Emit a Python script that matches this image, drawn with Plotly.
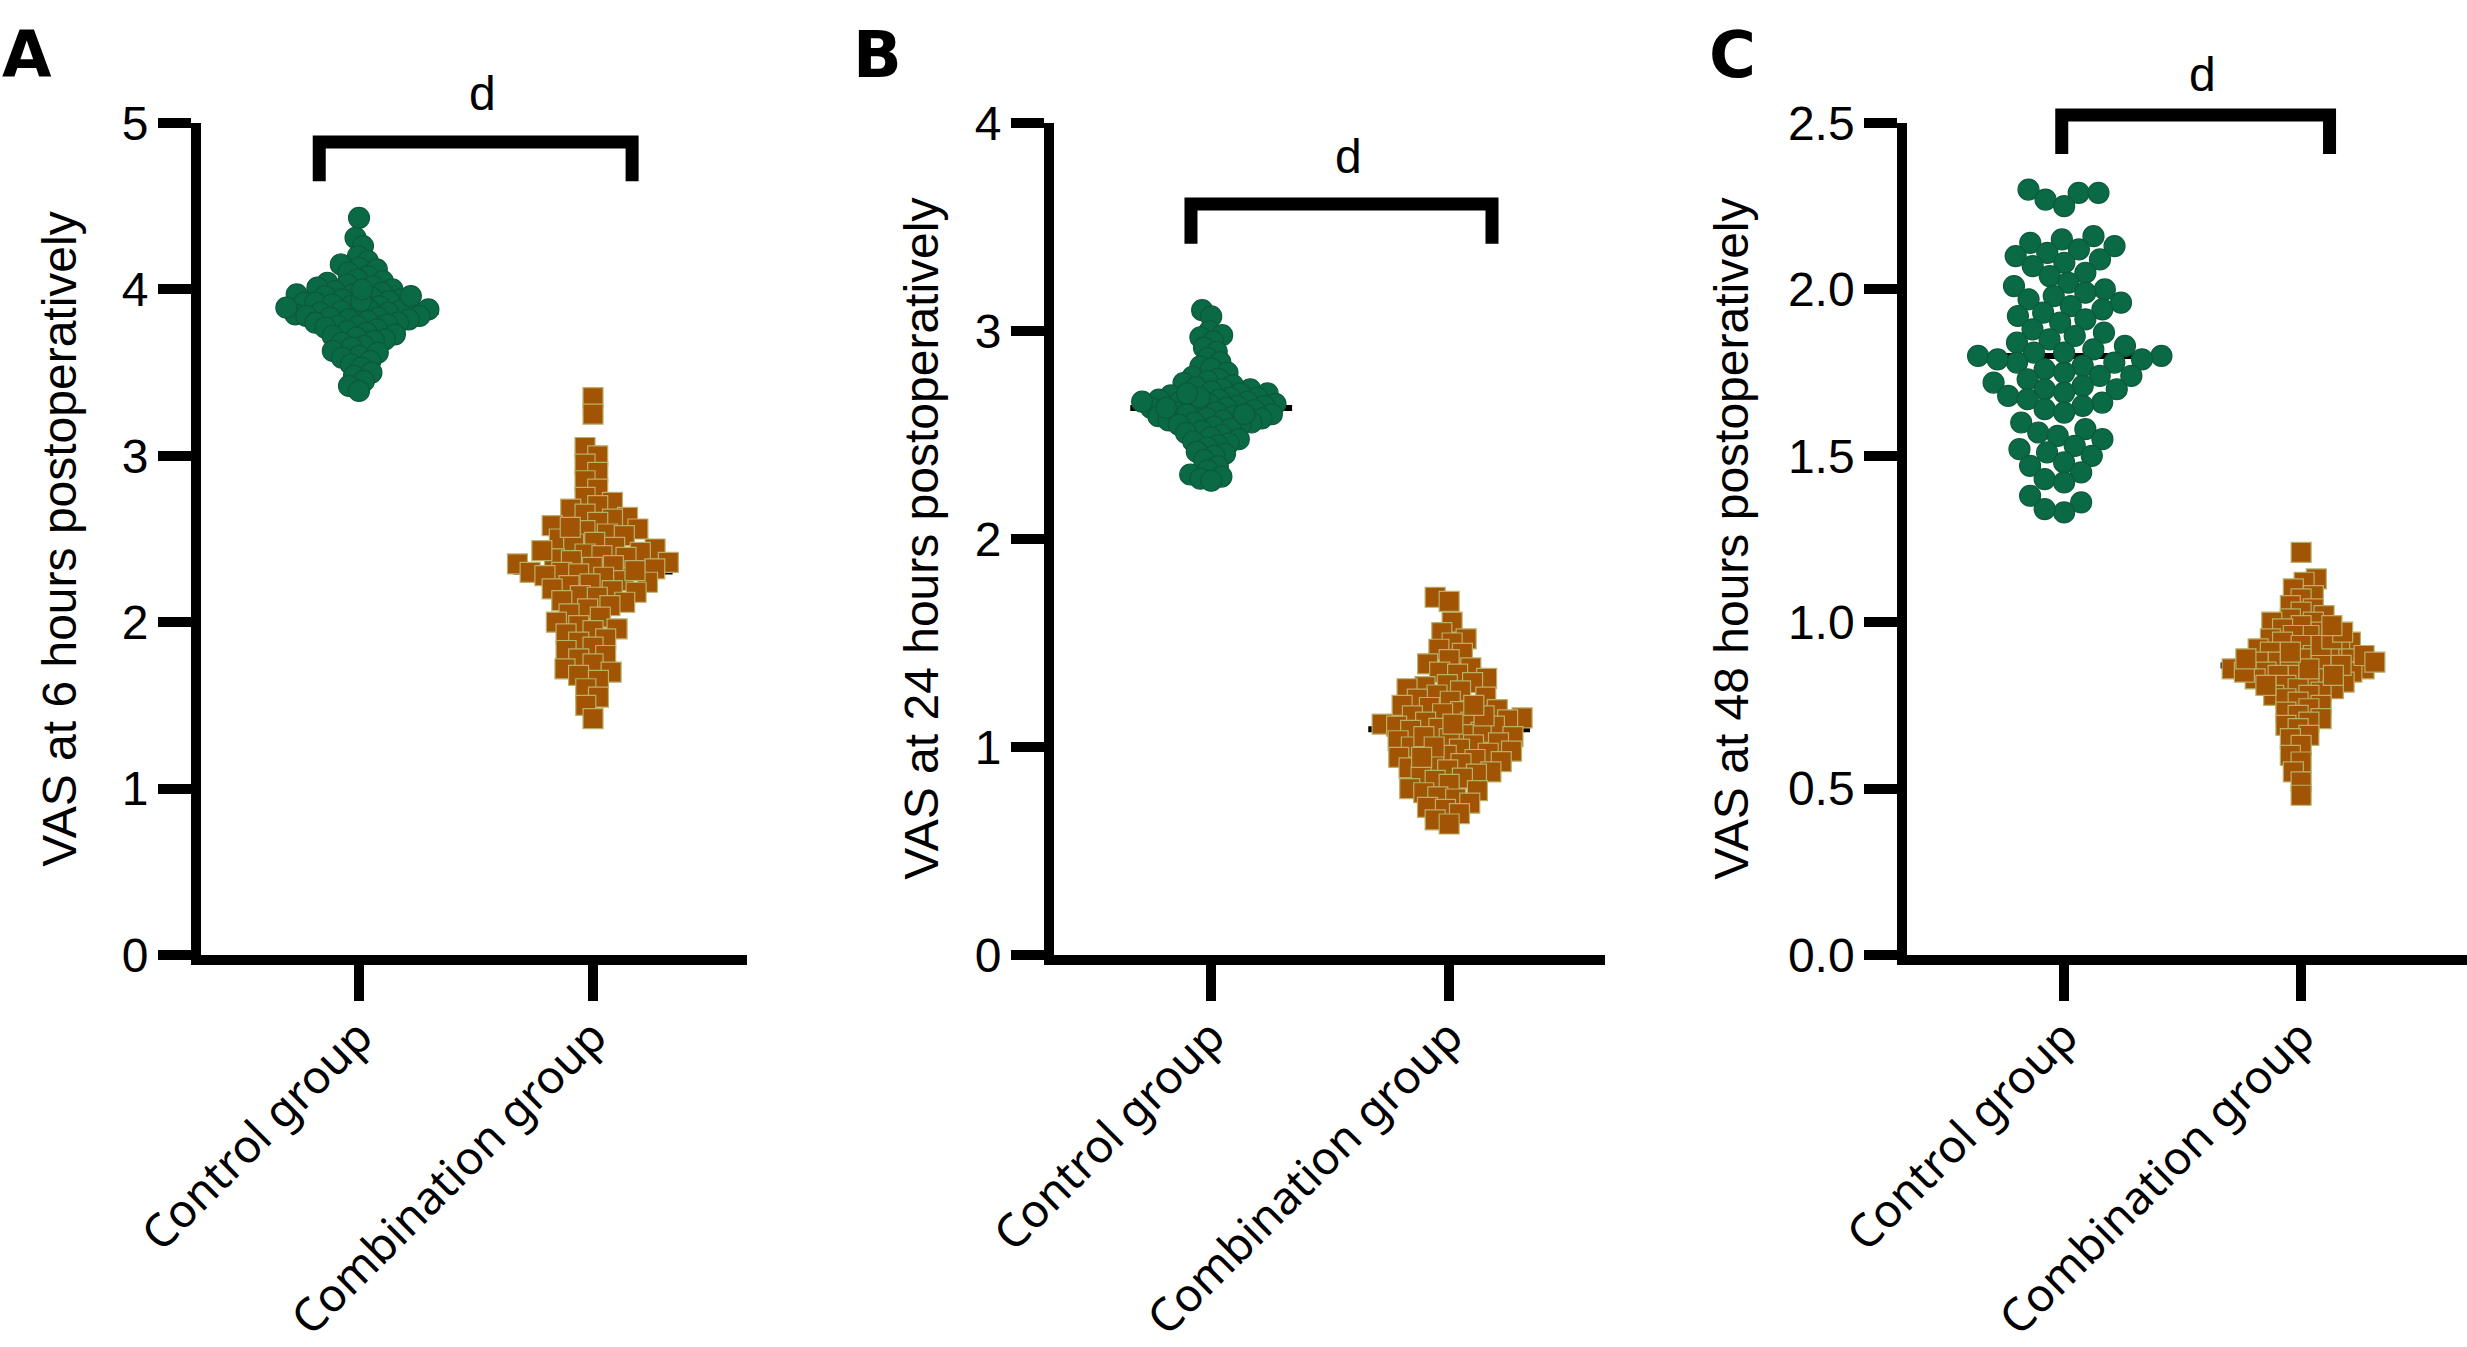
import numpy as np
import plotly.graph_objects as go

# ---- data ----
categories = ["Control group", "Combination group"]
panel_letters = ["A", "B", "C"]
y_titles = ["VAS at 6 hours postoperatively",
            "VAS at 24 hours postoperatively",
            "VAS at 48 hours postoperatively"]
y_tickvals = [[0, 1, 2, 3, 4, 5],
              [0, 1, 2, 3, 4],
              [0, 0.5, 1.0, 1.5, 2.0, 2.5]]
y_ticktext = [["0", "1", "2", "3", "4", "5"],
              ["0", "1", "2", "3", "4"],
              ["0.0", "0.5", "1.0", "1.5", "2.0", "2.5"]]
sig_labels = ["d", "d", "d"]

vas6_control = [
    4.43, 4.31, 4.26, 4.20, 4.17, 4.15, 4.13, 4.12, 4.10, 4.08,
    4.06, 4.05, 4.04, 4.03, 4.02, 4.01, 4.00, 3.99, 3.98, 3.97,
    3.97, 3.96, 3.95, 3.94, 3.94, 3.93, 3.92, 3.92, 3.91, 3.90,
    3.90, 3.89, 3.88, 3.88, 3.87, 3.87, 3.86, 3.86, 3.85, 3.85,
    3.84, 3.84, 3.83, 3.83, 3.82, 3.82, 3.81, 3.80, 3.80, 3.79,
    3.78, 3.78, 3.77, 3.76, 3.75, 3.74, 3.73, 3.72, 3.71, 3.70,
    3.69, 3.68, 3.66, 3.65, 3.63, 3.62, 3.60, 3.59, 3.57, 3.55,
    3.53, 3.50, 3.48, 3.45, 3.42, 3.39, 3.93, 3.96, 4.00, 3.89]
vas6_combination = [
    3.35, 3.25, 3.05, 3.00, 2.95, 2.90, 2.85, 2.80, 2.75, 2.72,
    2.70, 2.68, 2.65, 2.63, 2.62, 2.60, 2.58, 2.56, 2.55, 2.53,
    2.52, 2.50, 2.48, 2.47, 2.45, 2.44, 2.42, 2.41, 2.40, 2.39,
    2.38, 2.37, 2.36, 2.35, 2.34, 2.33, 2.32, 2.30, 2.30, 2.29,
    2.28, 2.27, 2.25, 2.24, 2.23, 2.22, 2.20, 2.19, 2.18, 2.16,
    2.15, 2.13, 2.12, 2.10, 2.08, 2.05, 2.03, 2.00, 1.98, 1.96,
    1.95, 1.93, 1.90, 1.88, 1.85, 1.83, 1.80, 1.78, 1.75, 1.72,
    1.70, 1.68, 1.65, 1.60, 1.55, 1.50, 1.42, 2.57, 2.43, 2.31]

vas24_control = [
    3.10, 3.07, 3.00, 2.98, 2.97, 2.95, 2.92, 2.90, 2.87, 2.85,
    2.83, 2.82, 2.80, 2.78, 2.77, 2.76, 2.75, 2.74, 2.73, 2.72,
    2.72, 2.71, 2.70, 2.70, 2.69, 2.68, 2.68, 2.67, 2.67, 2.66,
    2.66, 2.65, 2.65, 2.65, 2.64, 2.64, 2.63, 2.63, 2.62, 2.62,
    2.61, 2.61, 2.60, 2.60, 2.59, 2.59, 2.58, 2.58, 2.57, 2.57,
    2.56, 2.56, 2.55, 2.55, 2.54, 2.53, 2.52, 2.51, 2.50, 2.49,
    2.48, 2.47, 2.46, 2.45, 2.44, 2.42, 2.41, 2.40, 2.38, 2.35,
    2.33, 2.31, 2.30, 2.29, 2.28, 2.68, 2.70, 2.63, 2.60, 2.66]
vas24_combination = [
    1.72, 1.70, 1.60, 1.55, 1.52, 1.50, 1.47, 1.45, 1.42, 1.40,
    1.38, 1.36, 1.35, 1.33, 1.31, 1.30, 1.29, 1.28, 1.27, 1.25,
    1.24, 1.23, 1.22, 1.20, 1.19, 1.18, 1.17, 1.16, 1.15, 1.14,
    1.13, 1.12, 1.12, 1.11, 1.10, 1.10, 1.09, 1.08, 1.07, 1.06,
    1.05, 1.04, 1.03, 1.02, 1.01, 1.00, 0.99, 0.98, 0.97, 0.96,
    0.95, 0.94, 0.93, 0.92, 0.91, 0.90, 0.89, 0.88, 0.87, 0.86,
    0.85, 0.84, 0.82, 0.80, 0.79, 0.78, 0.76, 0.75, 0.73, 0.71,
    0.70, 0.68, 0.65, 0.63, 1.11, 1.05, 1.00, 0.95, 1.15, 1.20]

vas48_control = [
    2.30, 2.29, 2.29, 2.27, 2.25, 2.16, 2.15, 2.14, 2.13, 2.12,
    2.11, 2.10, 2.09, 2.08, 2.07, 2.05, 2.04, 2.02, 2.01, 2.00,
    1.99, 1.98, 1.97, 1.96, 1.95, 1.94, 1.93, 1.92, 1.91, 1.90,
    1.88, 1.87, 1.86, 1.85, 1.84, 1.83, 1.82, 1.81, 1.80, 1.80,
    1.79, 1.78, 1.78, 1.77, 1.76, 1.75, 1.74, 1.74, 1.73, 1.72,
    1.71, 1.70, 1.70, 1.69, 1.68, 1.67, 1.66, 1.65, 1.64, 1.63,
    1.60, 1.58, 1.57, 1.56, 1.55, 1.53, 1.52, 1.51, 1.50, 1.48,
    1.47, 1.45, 1.43, 1.42, 1.38, 1.36, 1.33, 1.34, 1.79, 1.81]
vas48_combination = [
    1.21, 1.13, 1.12, 1.10, 1.08, 1.07, 1.05, 1.04, 1.03, 1.02,
    1.01, 1.00, 1.00, 0.99, 0.98, 0.97, 0.96, 0.96, 0.95, 0.94,
    0.94, 0.93, 0.92, 0.92, 0.91, 0.90, 0.90, 0.89, 0.89, 0.88,
    0.88, 0.87, 0.87, 0.86, 0.86, 0.85, 0.85, 0.84, 0.84, 0.83,
    0.83, 0.82, 0.82, 0.81, 0.80, 0.80, 0.79, 0.78, 0.78, 0.77,
    0.76, 0.75, 0.74, 0.73, 0.72, 0.71, 0.70, 0.69, 0.68, 0.66,
    0.65, 0.63, 0.60, 0.58, 0.55, 0.52, 0.48, 0.90, 0.93, 0.87,
    0.86, 0.84, 0.81, 0.95, 0.97, 0.99, 0.91, 0.85, 0.88, 0.89]

control_series = [vas6_control, vas24_control, vas48_control]
combination_series = [vas6_combination, vas24_combination, vas48_combination]

# ---- layout constants ----
W, H = 2467, 1347
x_domains = [(0.0815, 0.3028), (0.4273, 0.6506), (0.7731, 1.0)]
x_ranges = [(-0.675, 1.658), (-0.66, 1.655), (-0.662, 1.70)]
y_domain = (0.291, 0.9087)
# bracket: left leg x, right leg x, bar y, leg bottom y, label y (data units)
brackets = [(-0.17, 1.167, 4.886, 4.65, 5.18),
            (-0.085, 1.18, 3.61, 3.42, 3.84),
            (-0.01, 1.12, 2.524, 2.407, 2.647)]
title_x = [0.0243, 0.3737, 0.702]
letter_x = [0.0, 0.345, 0.692]
swarm_width = [[62, 62], [62, 62], [70, 62]]

GREEN, GREEN_EDGE = "#0a6a45", "#0c5a3b"
ORANGE, ORANGE_EDGE = "#a05404", "#b9b06a"
TICK_FONT = "Liberation Sans, Arial, sans-serif"
CAT_FONT = "Noto Sans, Open Sans, sans-serif"


def swarm(values, center, xppu, yppu, diam, half_width):
    """compact beeswarm; gap factor tuned so most of the swarm is ~half_width px wide"""
    vals = np.asarray(values, dtype=float)
    order = np.argsort(vals)

    def place(gap):
        d = diam * gap
        xs = np.zeros(len(vals))
        placed = []
        for i in order:
            yp = vals[i] * yppu
            iv = []
            for xq, yq in placed:
                dy = abs(yp - yq)
                if dy < d:
                    dx = np.sqrt(d * d - dy * dy)
                    iv.append((xq - dx, xq + dx))
            cands = sorted([0.0] + [a for a, b in iv] + [b for a, b in iv], key=abs)
            for c in cands:
                if all(not (a + 1e-6 < c < b - 1e-6) for a, b in iv):
                    xs[i] = c
                    break
            placed.append((xs[i], yp))
        return xs

    def spread(xs):
        return np.percentile(np.abs(xs), 96)

    lo, hi = 0.2, 1.0
    xs = place(hi)
    if spread(xs) > half_width:
        for _ in range(18):
            mid = (lo + hi) / 2
            if spread(place(mid)) > half_width:
                hi = mid
            else:
                lo = mid
        xs = place(lo)
    return center + xs / xppu


fig = go.Figure()
layout = dict(width=W, height=H, margin=dict(l=0, r=0, t=0, b=0, autoexpand=False),
              paper_bgcolor="white", plot_bgcolor="white", showlegend=False)
shapes, annotations = [], []

for p in range(3):
    sfx = "" if p == 0 else str(p + 1)
    xa, ya = "x" + sfx, "y" + sfx
    ymax = y_tickvals[p][-1]
    r0, r1 = x_ranges[p]
    xppu = (x_domains[p][1] - x_domains[p][0]) * W / (r1 - r0)
    yppu = (y_domain[1] - y_domain[0]) * H / ymax

    groups = [(control_series[p], 0, "circle", 21, GREEN, GREEN_EDGE),
              (combination_series[p], 1, "square", 20, ORANGE, ORANGE_EDGE)]
    for vals, cx, sym, size, col, edge in groups:
        xs = swarm(vals, cx, xppu, yppu, size, swarm_width[p][cx])
        fig.add_trace(go.Scatter(
            x=xs, y=vals, mode="markers", xaxis=xa, yaxis=ya, cliponaxis=False,
            marker=dict(symbol=sym, size=size, color=col,
                        line=dict(color=edge, width=1.2)),
            hoverinfo="y"))
        med = float(np.median(vals))
        shapes.append(dict(type="line", xref=xa, yref=ya, layer="below",
                           x0=cx - 0.34, x1=cx + 0.34, y0=med, y1=med,
                           line=dict(color="black", width=6)))

    # significance bracket and label, placed in domain fractions so they are not clipped
    bx0, bx1, by, byl, ty = brackets[p]
    fx0, fx1 = (bx0 - r0) / (r1 - r0), (bx1 - r0) / (r1 - r0)
    fy, fyl = by / ymax, byl / ymax
    shapes.append(dict(type="path", xref=xa + " domain", yref=ya + " domain",
                       path=f"M {fx0},{fyl} L {fx0},{fy} L {fx1},{fy} L {fx1},{fyl}",
                       line=dict(color="black", width=13)))
    annotations.append(dict(x=((bx0 + bx1) / 2 + 0.03 - r0) / (r1 - r0), y=ty / ymax,
                            xref=xa + " domain", yref=ya + " domain",
                            text=sig_labels[p], showarrow=False,
                            xanchor="center", yanchor="middle",
                            font=dict(family=TICK_FONT, size=48, color="black")))

    # axis title and panel letter
    annotations.append(dict(x=title_x[p], y=0.60, xref="paper", yref="paper",
                            text=y_titles[p], textangle=-90, showarrow=False,
                            xanchor="center", yanchor="middle",
                            font=dict(family=TICK_FONT, size=48, color="black")))
    annotations.append(dict(x=letter_x[p], y=0.988, xref="paper", yref="paper",
                            text="<b>" + panel_letters[p] + "</b>", showarrow=False,
                            xanchor="left", yanchor="top",
                            font=dict(family="DejaVu Sans, sans-serif", size=64,
                                      color="black")))

    layout["xaxis" + sfx] = dict(
        domain=list(x_domains[p]), range=list(x_ranges[p]), anchor=ya,
        automargin=False,
        tickmode="array", tickvals=[0, 1], ticktext=categories,
        tickangle=-45, ticks="outside", ticklen=36, tickwidth=10,
        ticklabelstandoff=-10,
        tickcolor="black", showline=True, linewidth=10, linecolor="black",
        showgrid=False, zeroline=False,
        tickfont=dict(family=CAT_FONT, size=46, color="black"))
    layout["yaxis" + sfx] = dict(
        domain=list(y_domain), range=[0, ymax], anchor=xa,
        automargin=False,
        tickmode="array", tickvals=y_tickvals[p], ticktext=y_ticktext[p],
        ticks="outside", ticklen=33, tickwidth=10, tickcolor="black",
        showline=True, linewidth=10, linecolor="black",
        showgrid=False, zeroline=False,
        tickfont=dict(family=TICK_FONT, size=48, color="black"))

layout["shapes"] = shapes
layout["annotations"] = annotations
fig.update_layout(**layout)
# the page's default body margin would push the fixed-size figure off the window
fig.write_html("out.html", config={"displayModeBar": False},
               post_script="document.body.style.margin='0';document.body.style.overflow='hidden';")
